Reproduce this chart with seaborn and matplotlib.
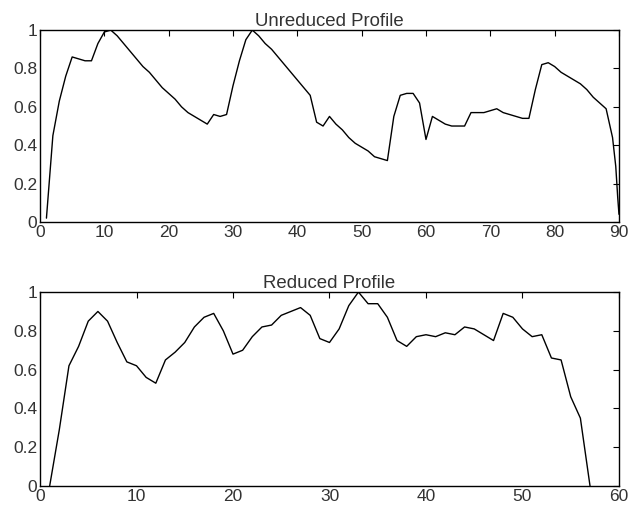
import numpy as np
import pandas as pd
import matplotlib
matplotlib.use("Agg")
import matplotlib.pyplot as plt
import seaborn as sns

# Unreduced profile
unreduced_x = list(range(1, 90)) + [89.5, 89.8, 90]
unreduced_y = [0.02, 0.45, 0.63, 0.76, 0.86, 0.85, 0.84, 0.84, 0.93, 0.99,
               1.00, 0.97, 0.93, 0.89, 0.85, 0.81, 0.78, 0.74, 0.70, 0.67,
               0.64, 0.60, 0.57, 0.55, 0.53, 0.51, 0.56, 0.55, 0.56, 0.71,
               0.84, 0.95, 1.00, 0.97, 0.93, 0.90, 0.86, 0.82, 0.78, 0.74,
               0.70, 0.66, 0.52, 0.50, 0.55, 0.51, 0.48, 0.44, 0.41, 0.39,
               0.37, 0.34, 0.33, 0.32, 0.55, 0.66, 0.67, 0.67, 0.62, 0.43,
               0.55, 0.53, 0.51, 0.50, 0.50, 0.50, 0.57, 0.57, 0.57, 0.58,
               0.59, 0.57, 0.56, 0.55, 0.54, 0.54, 0.69, 0.82, 0.83, 0.81,
               0.78, 0.76, 0.74, 0.72, 0.69, 0.65, 0.62, 0.59, 0.44,
               0.29, 0.13, 0.04]

# Reduced profile
reduced_x = list(range(1, 58))
reduced_y = [0.00, 0.29, 0.62, 0.72, 0.85, 0.90, 0.85, 0.74, 0.64, 0.62,
             0.56, 0.53, 0.65, 0.69, 0.74, 0.82, 0.87, 0.89, 0.80, 0.68,
             0.70, 0.77, 0.82, 0.83, 0.88, 0.90, 0.92, 0.88, 0.76, 0.74,
             0.81, 0.93, 1.00, 0.94, 0.94, 0.87, 0.75, 0.72, 0.77, 0.78,
             0.77, 0.79, 0.78, 0.82, 0.81, 0.78, 0.75, 0.89, 0.87, 0.81,
             0.77, 0.78, 0.66, 0.65, 0.46, 0.35, 0.00]

titles = ["Unreduced Profile", "Reduced Profile"]
yticks = [0, 0.2, 0.4, 0.6, 0.8, 1]
ytick_labels = ["0", "0.2", "0.4", "0.6", "0.8", "1"]
xticks_top = [0, 10, 20, 30, 40, 50, 60, 70, 80, 90]
xticks_bottom = [0, 10, 20, 30, 40, 50, 60]

sns.set_style("white")
plt.rcParams["font.family"] = ["Liberation Sans", "DejaVu Sans"]

fig = plt.figure(figsize=(6.3, 5.09), dpi=100)
ax1 = fig.add_axes([0.0635, 0.5639, 0.919, 0.377])
ax2 = fig.add_axes([0.0635, 0.0452, 0.919, 0.381])

df1 = pd.DataFrame({"x": unreduced_x, "y": unreduced_y})
df2 = pd.DataFrame({"x": reduced_x, "y": reduced_y})

sns.lineplot(data=df1, x="x", y="y", ax=ax1, color="black", linewidth=1.0)
sns.lineplot(data=df2, x="x", y="y", ax=ax2, color="black", linewidth=1.0)

text_color = "#333333"
for ax, title, xt, xmax in [(ax1, titles[0], xticks_top, 90), (ax2, titles[1], xticks_bottom, 60)]:
    ax.set_xlim(0, xmax)
    ax.set_ylim(0, 1)
    ax.set_xticks(xt)
    ax.set_xticklabels([str(v) for v in xt])
    ax.set_yticks(yticks)
    ax.set_yticklabels(ytick_labels)
    ax.set_xlabel("")
    ax.set_ylabel("")
    ax.set_title(title, fontsize=13.4, color=text_color, pad=3)
    ax.tick_params(direction="in", length=4, width=0.8, top=True, right=True,
                   labelsize=12.5, colors="black", labelcolor=text_color, pad=2)
    for s in ax.spines.values():
        s.set_visible(True)
        s.set_color("black")
        s.set_linewidth(1.0)
    ax.set_facecolor("white")

fig.savefig("out.png", dpi=100, facecolor="white")
